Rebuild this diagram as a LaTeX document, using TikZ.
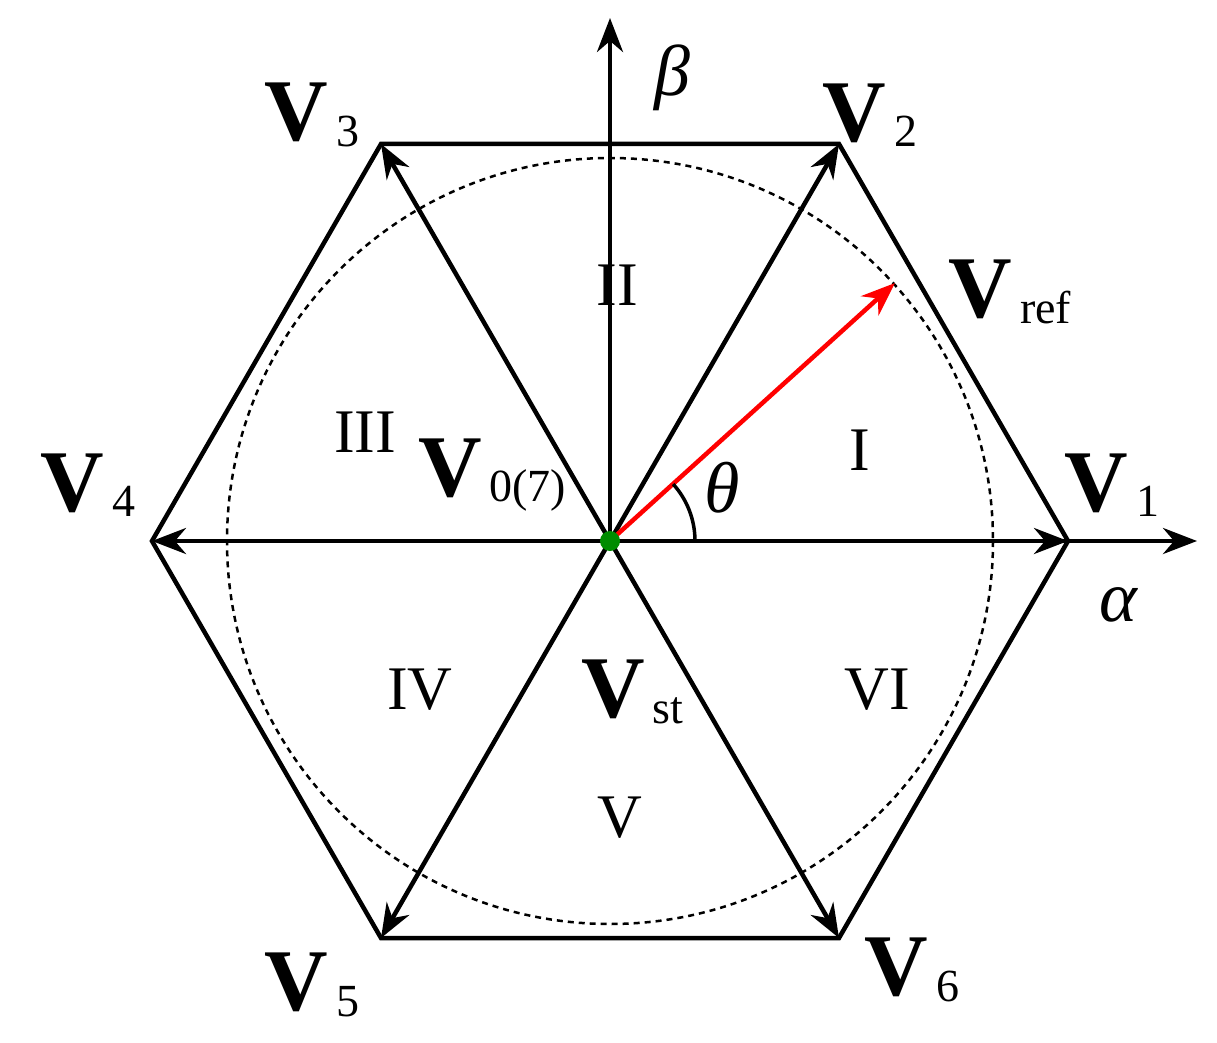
\documentclass[tikz,border=0pt]{standalone}
\usepackage{fontspec}
\setmainfont{Liberation Serif}
\usetikzlibrary{arrows.meta}
\newcommand{\Vl}[1]{{\fontsize{88}{88}\selectfont\textbf{V}}\raisebox{-0.55em}{\fontsize{46}{46}\selectfont\,#1}}
\begin{document}
\begin{tikzpicture}[x=1pt,y=-1pt,
  ln/.style={line width=4.5pt},
  ar/.style={line width=4.5pt,-{Stealth[length=34pt,width=26pt]}},
  lab/.style={inner sep=0pt},
  rn/.style={inner sep=0pt,font=\fontsize{62}{62}\selectfont},
  gk/.style={inner sep=0pt,font=\fontsize{72}{72}\selectfont\itshape}]
\useasboundingbox (0,0) rectangle (1217,1043);
\coordinate (O) at (610,541);
\coordinate (P1) at (1068,541);
\coordinate (P2) at (839,144);
\coordinate (P3) at (381,144);
\coordinate (P4) at (152,541);
\coordinate (P5) at (381,938);
\coordinate (P6) at (839,938);
\coordinate (A) at (1197,541);
\coordinate (B) at (610,18);
\coordinate (R) at (895,283);
\draw[ln,line join=miter] (P1)--(P2)--(P3)--(P4)--(P5)--(P6)--cycle;
\draw[line width=2.5pt,dash pattern=on 6pt off 5pt] (O) circle (383);
\draw[ar] (O)--(A);
\draw[ar] (O)--(B);
\foreach \p in {P1,P2,P3,P4,P5,P6} \draw[ar] (O)--(\p);
\draw[line width=4.5pt,red,-{Stealth[length=34pt,width=26pt]}] (O)--(R);
\draw[line width=3.5pt] (O) ++(85,0) arc[start angle=0,end angle=-42,radius=85];
\fill[green!55!black] (O) circle (10);
\node[lab] (v1) at (1112,485) {\Vl{1}};
\node[lab] (v2) at (870,115) {\Vl{2}};
\node[lab] (v3) at (312,115) {\Vl{3}};
\node[lab] (v4) at (88,485) {\Vl{4}};
\node[lab] (v5) at (312,985) {\Vl{5}};
\node[lab] (v6) at (912,970) {\Vl{6}};
\node[lab] (vr) at (1010,292) {\Vl{ref}};
\node[lab] (v0) at (492,475) {\Vl{0(7)}};
\node[lab] (vs) at (632,692) {\Vl{st}};
\node[gk] (be) at (672,78) {β};
\node[gk] (al) at (1118,605) {α};
\node[gk] (th) at (722,488) {θ};
\node[rn] (s1) at (860,450) {I};
\node[rn] (s2) at (617,285) {II};
\node[rn] (s3) at (365,432) {III};
\node[rn] (s4) at (420,690) {IV};
\node[rn] (s5) at (620,818) {V};
\node[rn] (s6) at (877,690) {VI};
\end{tikzpicture}
\end{document}
